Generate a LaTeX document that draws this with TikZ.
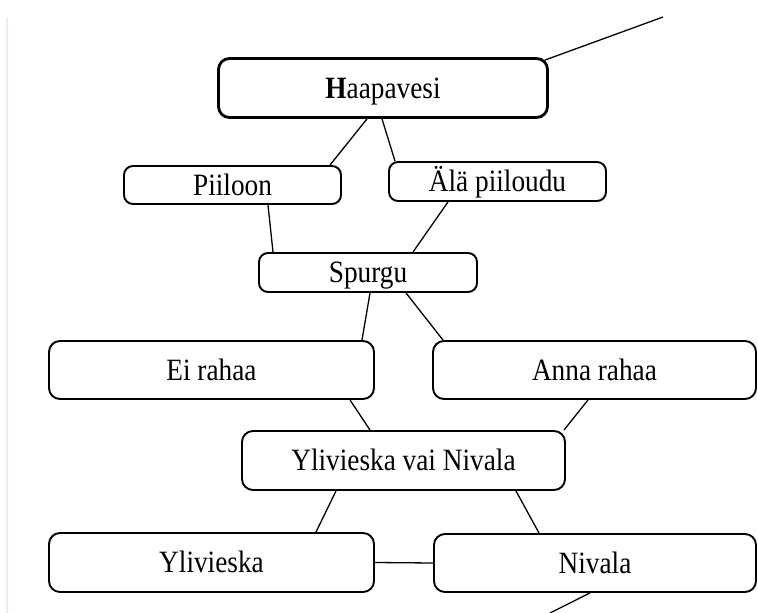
\documentclass[tikz,border=0pt]{standalone}
\usepackage{fontspec}
\newfontfamily\lblfont[FakeStretch=0.88]{Liberation Serif}
\definecolor{edgeblue}{RGB}{232,236,250}
\begin{document}
\begin{tikzpicture}[x=1pt,y=-1pt,
  box/.style={draw=black, line width=1.9pt, rounded corners=9pt, fill=white,
    inner sep=0pt, text height=20.5pt, text depth=0pt,
    font=\lblfont\fontsize{31}{36}\selectfont},
  bigbox/.style={box, line width=2.8pt, rounded corners=11pt},
  link/.style={draw=black, line width=1.3pt}]
\useasboundingbox (0,0) rectangle (758,613);
\fill[white] (0,0) rectangle (758,613);
\draw[edgeblue, line width=2pt] (7,17) -- (7,613);

\node[bigbox, minimum width=329pt, minimum height=59pt] (H) at (383,88) {\textbf{H}aapavesi};
\node[box, minimum width=217pt, minimum height=38pt] (P) at (232.5,185) {Piiloon};
\node[box, minimum width=217pt, minimum height=39pt] (A) at (497.5,181.5) {Älä piiloudu};
\node[box, minimum width=218pt, minimum height=39pt] (S) at (368,272.5) {Spurgu};
\node[box, minimum width=325pt, minimum height=58pt, rounded corners=11pt] (E) at (211.5,370) {Ei rahaa};
\node[box, minimum width=323pt, minimum height=58pt, rounded corners=11pt] (R) at (594.5,370) {Anna rahaa};
\node[box, minimum width=323pt, minimum height=59pt, rounded corners=11pt] (Y) at (403.5,460.5) {Ylivieska vai Nivala};
\node[box, minimum width=325pt, minimum height=59pt, rounded corners=11pt] (L) at (211.5,562.5) {Ylivieska};
\node[box, minimum width=322pt, minimum height=58pt, rounded corners=11pt] (N) at (595,563) {Nivala};

\coordinate (topend) at (663,17);
\coordinate (botend) at (550,613);

\draw[link] ([xshift=-16pt]H.south) -- ([xshift=97.5pt]P.north);
\draw[link] ([xshift=-1pt]H.south) -- ([xshift=-102.5pt]A.north);
\draw[link] ([xshift=35.5pt]P.south) -- ([xshift=-95pt]S.north);
\draw[link] ([xshift=-49.5pt]A.south) -- ([xshift=45pt]S.north);
\draw[link] ([xshift=2pt]S.south) -- ([xshift=150.5pt]E.north);
\draw[link] ([xshift=38pt]S.south) -- ([xshift=-151.5pt]R.north);
\draw[link] ([xshift=138.5pt]E.south) -- ([xshift=-33.5pt]Y.north);
\draw[link] ([xshift=-6.5pt]R.south) -- ([xshift=160.5pt]Y.north);
\draw[link] ([xshift=-67.5pt]Y.south) -- ([xshift=104.5pt]L.north);
\draw[link] ([xshift=112.5pt]Y.south) -- ([xshift=-56pt]N.north);
\draw[link] (L.east) -- (N.west);
\draw[link] ([xshift=-5pt]N.south) -- (botend);
\draw[link] ([xshift=-4pt,yshift=-3pt]H.north east) -- (topend);
\end{tikzpicture}
\end{document}
